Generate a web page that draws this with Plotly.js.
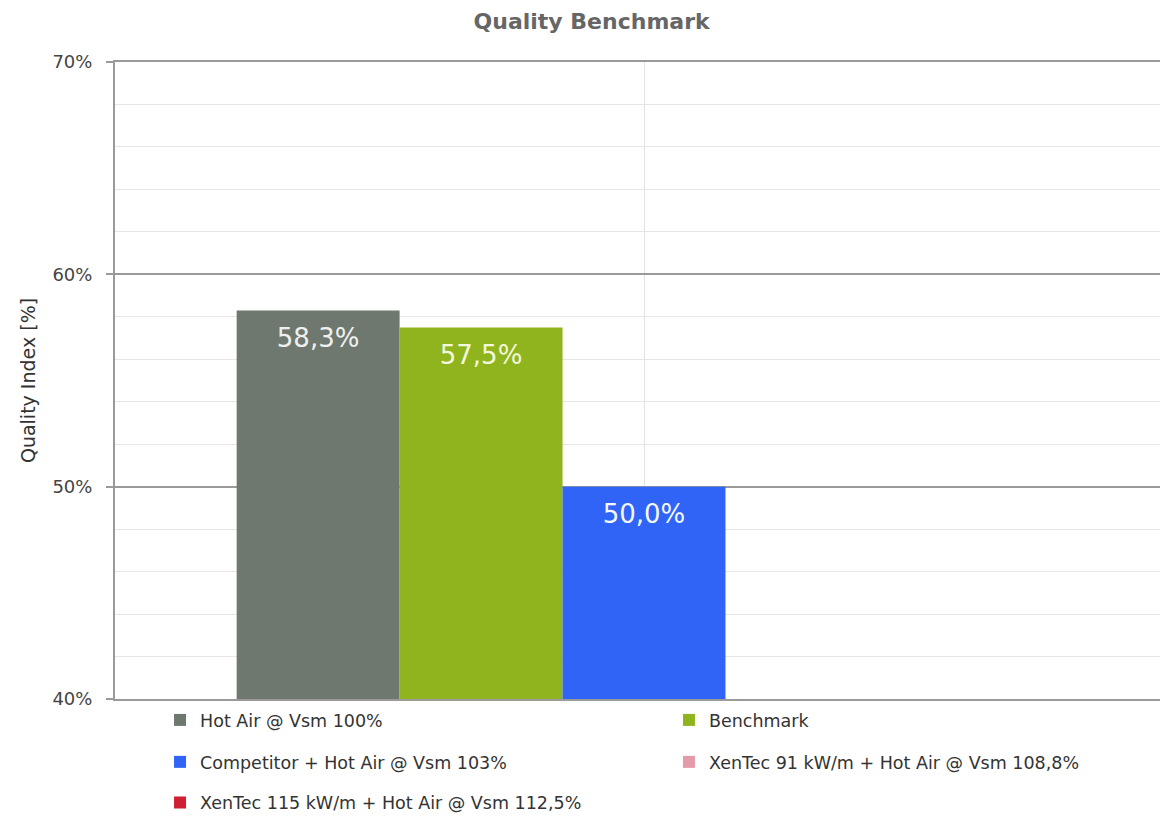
<!DOCTYPE html>
<html>
<head>
<meta charset="utf-8">
<script src="https://cdn.plot.ly/plotly-3.0.1.min.js"></script>
<style>
  html, body { margin: 0; padding: 0; background: #fff; overflow: hidden; }
  #chart { width: 1160px; height: 816px; }
</style>
</head>
<body>
<div id="chart"></div>
<script>
// Single benchmark group on the x axis
const categories = ['Quality Benchmark'];

// Series names (legend labels)
const seriesNames = [
  'Hot Air @ Vsm 100%',
  'Benchmark',
  'Competitor + Hot Air @ Vsm 103%',
  'XenTec 91 kW/m + Hot Air @ Vsm 108,8%',
  'XenTec 115 kW/m + Hot Air @ Vsm 112,5%'
];

// Quality index values in percent (null = no measurement shown)
const hotAirValues = [58.3];
const benchmarkValues = [57.5];
const competitorValues = [50.0];
const xentec91Values = [null];
const xentec115Values = [null];

// Y axis ticks
const yTickValues = [40, 50, 60, 70];
const yTickLabels = ['40%', '50%', '60%', '70%'];

const seriesValues = [hotAirValues, benchmarkValues, competitorValues, xentec91Values, xentec115Values];
const seriesColors = ['#6e786f', '#8fb41d', '#2f64f6', '#e59aa7', '#d01f33'];
const labelColors = ['#eef0ee', '#f3f7dc', '#f4f7ff', '#ffffff', '#ffffff'];

// Each legend entry gets its own legend box: two columns, three rows
const legendIds = ['legend', 'legend2', 'legend3', 'legend4', 'legend5'];
const legendX = [0.0431, 0.5301, 0.0431, 0.5301, 0.0431];
const legendY = [0.1176, 0.1176, 0.0662, 0.0662, 0.0165];

const FONT = 'DejaVu Sans, sans-serif';
const BAR_GAP = 0.23;

// Bars
const barTraces = seriesNames.map((name, i) => ({
  type: 'bar',
  name: name,
  x: categories,
  y: seriesValues[i],
  marker: { color: seriesColors[i], line: { width: 0 } },
  hoverinfo: 'skip',
  legend: legendIds[i]
}));

// Value labels, grouped the same way as the bars and hung just below each bar top
const labelTraces = seriesNames.map((name, i) => ({
  type: 'scatter',
  mode: 'markers+text',
  orientation: 'v',
  name: name,
  x: categories,
  y: seriesValues[i],
  texttemplate: '%{y:.1f}%',
  textposition: 'bottom center',
  textfont: { family: FONT, size: 26, color: labelColors[i] },
  marker: { size: 25, color: 'rgba(0,0,0,0)', line: { width: 0 } },
  cliponaxis: false,
  hoverinfo: 'skip',
  showlegend: false
}));

const legendBase = {
  orientation: 'h',
  xanchor: 'left',
  yanchor: 'middle',
  yref: 'container',
  font: { family: FONT, size: 17.5, color: '#333' },
  bgcolor: 'rgba(0,0,0,0)',
  borderwidth: 0
};

const layout = {
  width: 1160,
  height: 816,
  paper_bgcolor: '#ffffff',
  plot_bgcolor: '#ffffff',
  separators: ',.',
  margin: { l: 115, r: 0, t: 62, b: 117, pad: 0, autoexpand: false },
  title: {
    text: 'Quality Benchmark',
    x: 0.51,
    xanchor: 'center',
    y: 0.974,
    yanchor: 'middle',
    font: { family: FONT, size: 22, color: '#666', weight: 'bold' }
  },
  barmode: 'group',
  bargap: BAR_GAP,
  bargroupgap: 0,
  scattermode: 'group',
  scattergap: BAR_GAP,
  showlegend: true,
  xaxis: {
    type: 'category',
    range: [-0.5, 0.4877],
    showticklabels: false,
    ticks: '',
    showgrid: true,
    gridcolor: '#e2e2e2',
    gridwidth: 1,
    showline: true,
    mirror: true,
    linecolor: '#9a9a9a',
    linewidth: 2,
    zeroline: false,
    fixedrange: true
  },
  yaxis: {
    range: [40, 70],
    tickvals: yTickValues,
    ticktext: yTickLabels,
    ticks: 'outside',
    ticklen: 7,
    tickwidth: 2,
    tickcolor: '#9a9a9a',
    ticklabelstandoff: 10,
    tickfont: { family: FONT, size: 18, color: '#444' },
    showgrid: true,
    gridcolor: '#9a9a9a',
    gridwidth: 2,
    minor: { dtick: 2, showgrid: true, gridcolor: '#e6e6e6', gridwidth: 1, ticks: '' },
    showline: true,
    linecolor: '#9a9a9a',
    linewidth: 2,
    zeroline: false,
    fixedrange: true,
    title: {
      text: 'Quality Index [%]',
      standoff: 12,
      font: { family: FONT, size: 19, color: '#333' }
    }
  }
};

legendIds.forEach((id, i) => {
  layout[id] = Object.assign({}, legendBase, { x: legendX[i], y: legendY[i] });
});

Plotly.newPlot('chart', barTraces.concat(labelTraces), layout, { displayModeBar: false, staticPlot: true });
</script>
</body>
</html>
